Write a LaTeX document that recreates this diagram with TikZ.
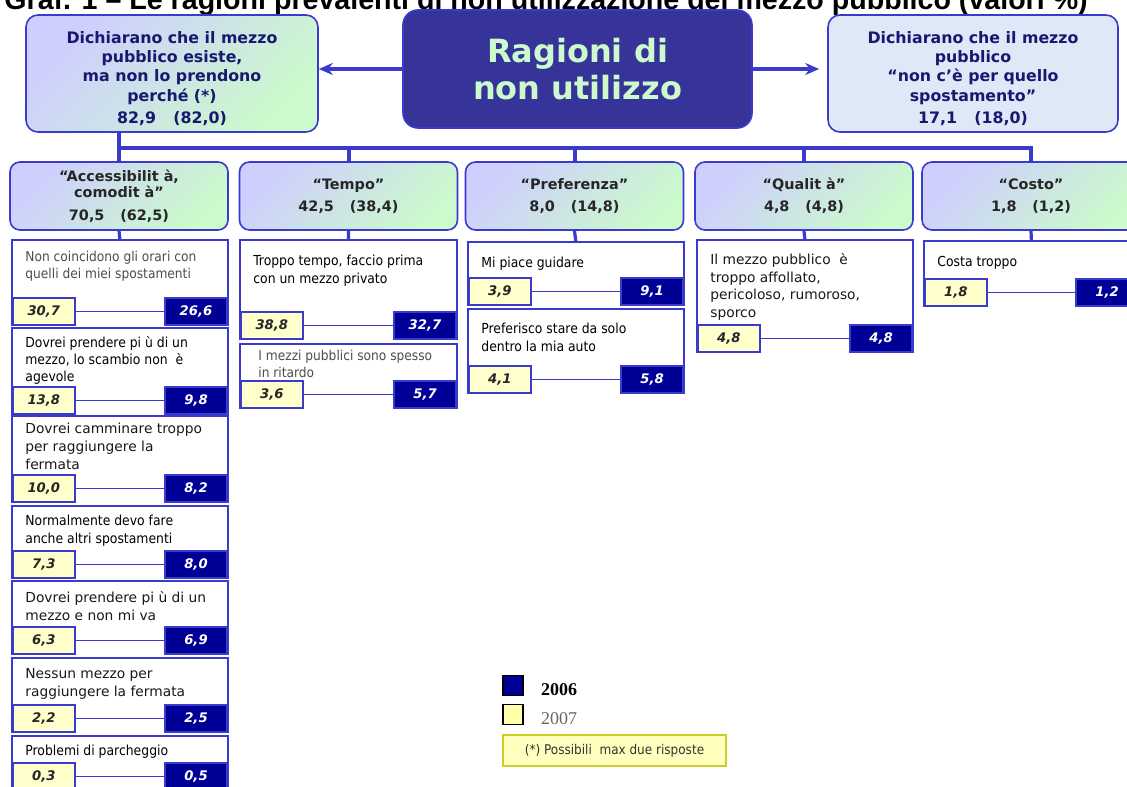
\documentclass[tikz,border=0pt]{standalone}
\usepackage{fontspec}
\setmainfont{DejaVu Sans}
\newfontfamily\cond{DejaVu Sans Condensed}
\newfontfamily\arialf{Liberation Sans}
\newfontfamily\timesf{Liberation Serif}
\usetikzlibrary{positioning,arrows.meta}

\definecolor{lineblue}{RGB}{58,58,204}
\definecolor{mainblue}{RGB}{54,51,153}
\definecolor{mintgreen}{RGB}{204,250,204}
\definecolor{lavender}{RGB}{206,206,255}
\definecolor{paleblue}{RGB}{222,233,248}
\definecolor{navybox}{RGB}{0,0,150}
\definecolor{creambox}{RGB}{255,255,204}
\definecolor{keyyellow}{RGB}{255,255,170}
\definecolor{inknavy}{RGB}{24,24,112}
\definecolor{notefill}{RGB}{255,255,190}
\definecolor{noteline}{RGB}{205,205,40}

\tikzset{
  headbox/.style={draw=lineblue, line width=0.8pt, rounded corners=6pt, align=center, inner sep=0pt,
    font=\bfseries\fontsize{7.9}{9.6}\selectfont, text=inknavy},
  gradfill/.style={top color=lavender, bottom color=mintgreen, shading angle=45},
  catbox/.style={draw=lineblue, line width=0.8pt, rounded corners=5pt, gradfill, align=center, inner sep=0pt,
    minimum width=109pt, minimum height=34pt, font=\bfseries\fontsize{7.2}{8.2}\selectfont, text=black!85},
  itembox/.style={inner sep=0pt},
  frame/.style={lineblue, line width=1pt},
  widetext/.style={align=left, inner sep=0pt, font=\fontsize{6.9}{8.8}\selectfont, text=black!90},
  narrowtext/.style={align=left, inner sep=0pt, font=\cond\fontsize{6.9}{8.6}\selectfont, text=black},
  dimtext/.style={align=left, inner sep=0pt, font=\cond\fontsize{6.8}{8.6}\selectfont, text=black!70},
  valbox/.style={draw=lineblue, line width=0.8pt, minimum width=31pt, minimum height=13.5pt, inner sep=0pt,
    font=\bfseries\itshape\fontsize{6.6}{8}\selectfont},
  oldval/.style={valbox, fill=creambox, text=black!85},
  newval/.style={valbox, fill=navybox, text=white},
  tree/.style={lineblue, line width=2pt},
  twig/.style={lineblue, line width=1.6pt},
  pair/.style={lineblue, line width=0.6pt},
  side/.style={lineblue, line width=1.8pt, -{Stealth[length=7pt,width=6pt]}},
  keybox/.style={draw=black, line width=0.6pt, minimum size=10pt, inner sep=0pt},
}

% one reason: frame open at the bottom, text in the upper left corner
\def\reason(#1)[#2](#3,#4)(#5,#6,#7)#8{%
  \node[itembox, anchor=north west, minimum width={#5*0.5pt}, minimum height={#6*0.5pt}] (#1) at (#3,#4) {};
  \draw[frame] (#1.south west) -- (#1.north west) -- (#1.north east) -- (#1.south east);
  \node[#2, anchor=north west] (#1txt) at ({#3+13},{#4+#7-5}) {#8};
}
% the two values under a reason: 2007 left, 2006 right
\def\vals(#1)#2#3{%
  \node[oldval, anchor=south west] (#1old) at (#1.south west) {#2};
  \node[newval, anchor=south east] (#1new) at (#1.south east) {#3};
  \draw[pair] (#1old) -- (#1new);
}

\begin{document}
\begin{tikzpicture}[x=0.5pt, y=-0.5pt]
  %%%%% START %%%%%
  \useasboundingbox (0,0) rectangle (1127,786);
  \clip (0,0) rectangle (1127,786);

  \node[anchor=base west, inner sep=0pt, font=\arialf\bfseries\fontsize{14.3}{16}\selectfont] (title) at (4,10)
    {Graf. 1 – Le ragioni prevalenti di non utilizzazione del mezzo pubblico (valori \%)};

  \node[headbox, gradfill, minimum width=146pt, minimum height=58.5pt] (left) at (172,73.5)
    {\rule{0pt}{11.2pt}Dichiarano che il mezzo\\pubblico esiste,\\ma non lo prendono\\perché (*)\\[1.6pt]82,9\hspace{1.1em}(82,0)};
  \node[draw=lineblue, line width=0.8pt, fill=mainblue, rounded corners=7.5pt, align=center, inner sep=0pt,
    minimum width=174.5pt, minimum height=59pt, text=mintgreen, font=\bfseries\fontsize{16}{18.5}\selectfont] (main) at (577.5,69)
    {Ragioni di\\non utilizzo};
  \node[headbox, fill=paleblue, minimum width=145pt, minimum height=58.5pt] (right) at (973,73.5)
    {\rule{0pt}{11.2pt}Dichiarano che il mezzo\\pubblico\\“non c’è per quello\\spostamento”\\[1.6pt]17,1\hspace{1.1em}(18,0)};

  \draw[side] (main.west) -- (main.west -| left.east);
  \draw[side, shorten >=4pt] (main.east) -- (main.east -| right.west);

  \node[catbox] (cat1) at (119,196) {“Accessibilit à,\\comodit à”\\[3pt]70,5\hspace{1.1em}(62,5)};
  \node[catbox] (cat2) at (348.5,196) {“Tempo”\\[3pt]42,5\hspace{1.1em}(38,4)};
  \node[catbox] (cat3) at (574.5,196) {“Preferenza”\\[3pt]8,0\hspace{1.1em}(14,8)};
  \node[catbox] (cat4) at (804,196) {“Qualit à”\\[3pt]4,8\hspace{1.1em}(4,8)};
  \node[catbox] (cat5) at (1031,196) {“Costo”\\[3pt]1,8\hspace{1.1em}(1,2)};

  \coordinate (bus) at (0,148);
  \draw[tree] (cat1.north |- left.south) -- (cat1.north);
  \draw[tree] (cat1.north |- bus) -| (cat5.north);
  \draw[tree] (cat2.north |- bus) -- (cat2.north);
  \draw[tree] (cat3.north |- bus) -- (cat3.north);
  \draw[tree] (cat4.north |- bus) -- (cat4.north);

  % accessibilita', comodita'
  \reason(a1)[dimtext](12,240)(215,85,16){Non coincidono gli orari con\\quelli dei miei spostamenti}
  \vals(a1){30,7}{26,6}
  \reason(a2)[narrowtext](12,328)(215,86,13){Dovrei prendere pi ù di un\\mezzo, lo scambio non~ è\\agevole}
  \vals(a2){13,8}{9,8}
  \reason(a3)[widetext](12,416)(215,86,12){Dovrei camminare troppo\\per raggiungere la\\fermata}
  \vals(a3){10,0}{8,2}
  \reason(a4)[narrowtext](12,506)(215,72,14){Normalmente devo fare\\anche altri spostamenti}
  \vals(a4){7,3}{8,0}
  \reason(a5)[widetext](12,581)(215,73,15){Dovrei prendere pi ù di un\\mezzo e non mi va}
  \vals(a5){6,3}{6,9}
  \reason(a6)[widetext](12,658)(215,74,15){Nessun mezzo per\\raggiungere la fermata}
  \vals(a6){2,2}{2,5}
  \reason(a7)[narrowtext](12,736)(215,54,14){Problemi di parcheggio}
  \vals(a7){0,3}{0,5}
  \draw[twig] (cat1.south) -- (a1.north);

  % tempo
  \reason(t1)[narrowtext](240,240)(216,99,20){Troppo tempo, faccio prima\\con un mezzo privato}
  \vals(t1){38,8}{32,7}
  \reason(t2)[dimtext, xshift=2.5pt](240,344)(216,64,11){I mezzi pubblici sono spesso\\in ritardo}
  \vals(t2){3,6}{5,7}
  \draw[twig] (cat2.south) -- (t1.north);

  % preferenza
  \reason(p1)[narrowtext](468,242)(215,63,20){Mi piace guidare}
  \vals(p1){3,9}{9,1}
  \reason(p2)[narrowtext](468,309)(215,84,19){Preferisco stare da solo\\dentro la mia auto}
  \vals(p2){4,1}{5,8}
  \draw[twig] (cat3.south) -- (p1.north);

  % qualita'
  \reason(q1)[widetext](697,240)(215,112,18){Il mezzo pubblico~ è\\troppo affollato,\\pericoloso, rumoroso,\\sporco}
  \vals(q1){4,8}{4,8}
  \draw[twig] (cat4.south) -- (q1.north);

  % costo
  \reason(c1)[narrowtext](924,241)(214,65,20){Costa troppo}
  \vals(c1){1,8}{1,2}
  \draw[twig] (cat5.south) -- (c1.north);

  % legenda
  \node[keybox, fill=navybox] (key06) at (513,685.5) {};
  \node[right=8.5pt of key06, yshift=-2pt, inner sep=0pt, font=\timesf\bfseries\fontsize{9}{10}\selectfont] (lab06) {2006};
  \node[keybox, fill=keyyellow] (key07) at (513,714.5) {};
  \node[right=8.5pt of key07, yshift=-2pt, inner sep=0pt, text=black!60, font=\timesf\fontsize{9}{10}\selectfont] (lab07) {2007};
  \node[draw=noteline, line width=1pt, fill=notefill, minimum width=111.5pt, minimum height=15.5pt, inner sep=0pt,
    text=black!80, font=\cond\fontsize{6.7}{8}\selectfont] (note) at (614.5,750.5) {(*) Possibili~ max due risposte};
  %%%%% END %%%%%
\end{tikzpicture}
\end{document}
